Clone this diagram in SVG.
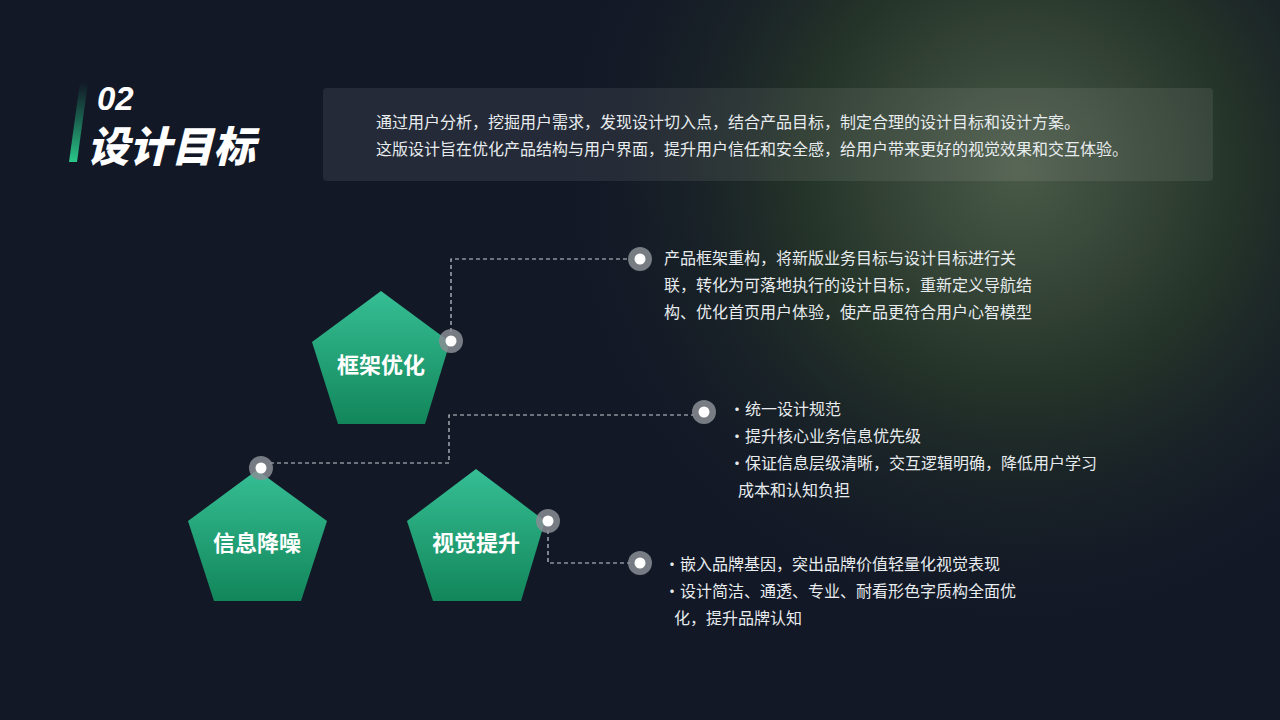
<svg xmlns="http://www.w3.org/2000/svg" width="1280" height="720" viewBox="0 0 1280 720">
<defs>
<radialGradient id="glow" cx="1020" cy="170" r="480" gradientUnits="userSpaceOnUse">
<stop offset="0" stop-color="#4a5a48"/><stop offset="0.45" stop-color="#253429"/><stop offset="1" stop-color="#141a26" stop-opacity="0"/>
</radialGradient>
<linearGradient id="pg" x1="0" y1="0" x2="0" y2="1">
<stop offset="0" stop-color="#36be94"/><stop offset="1" stop-color="#12865a"/>
</linearGradient>
<linearGradient id="bar" x1="0" y1="0" x2="0" y2="1">
<stop offset="0" stop-color="#1fa672" stop-opacity="0"/><stop offset="1" stop-color="#2ac88a"/>
</linearGradient>
<style>
.t{font-family:"Noto Sans CJK SC",sans-serif;fill:#e8ecef;font-size:16px}
.lbl{font-family:"Noto Sans CJK SC",sans-serif;fill:#fff;font-size:22px;font-weight:bold;text-anchor:middle}
.cn{fill:none;stroke:#c8ccd2;stroke-width:1.2;stroke-dasharray:4 3}
.ro{fill:#8a8d94;fill-opacity:.85}.ri{fill:#fff}
</style>
</defs>
<rect width="1280" height="720" fill="#121826"/>
<rect width="1280" height="720" fill="url(#glow)"/>
<g id="title">
<polygon points="80,82 88,82 77,162 69,162" fill="url(#bar)"/>
<text x="97" y="110" font-family="Liberation Sans,sans-serif" font-size="33" font-weight="bold" font-style="italic" fill="#fff">02</text>
<text x="87" y="162" font-family="Noto Sans CJK SC,sans-serif" font-size="42" font-weight="900" font-style="italic" fill="#fff">设计目标</text>
</g>
<g id="intro">
<rect x="323" y="88" width="890" height="93" rx="4" fill="#ffffff" fill-opacity="0.08"/>
<text class="t" x="376" y="128">通过用户分析，挖掘用户需求，发现设计切入点，结合产品目标，制定合理的设计目标和设计方案。</text>
<text class="t" x="376" y="155">这版设计旨在优化产品结构与用户界面，提升用户信任和安全感，给用户带来更好的视觉效果和交互体验。</text>
</g>
<g id="connectors">
<polyline class="cn" points="451,332 451,259 630,259"/>
<polyline class="cn" points="270,463 449,463 449,415 694,415"/>
<polyline class="cn" points="548,530 548,563 630,563"/>
</g>
<g id="n1">
<polygon points="381,291 450,342 425,424 338,424 312,342" fill="url(#pg)"/>
<text class="lbl" x="381" y="373">框架优化</text>
<circle cx="451" cy="341" r="12" class="ro"/><circle cx="451" cy="341" r="5.5" class="ri"/>
</g>
<g id="n2">
<polygon points="257,470 327,521 301,601 214,601 188,521" fill="url(#pg)"/>
<text class="lbl" x="257" y="551">信息降噪</text>
<circle cx="261" cy="468" r="12" class="ro"/><circle cx="261" cy="468" r="5.5" class="ri"/>
</g>
<g id="n3">
<polygon points="476,469 545,521 521,601 433,601 407,521" fill="url(#pg)"/>
<text class="lbl" x="476" y="551">视觉提升</text>
<circle cx="548" cy="521" r="12" class="ro"/><circle cx="548" cy="521" r="5.5" class="ri"/>
</g>
<g id="d1">
<circle cx="640" cy="259" r="12" class="ro"/><circle cx="640" cy="259" r="5.5" class="ri"/>
<text class="t" x="664" y="264">产品框架重构，将新版业务目标与设计目标进行关</text>
<text class="t" x="664" y="291">联，转化为可落地执行的设计目标，重新定义导航结</text>
<text class="t" x="664" y="318">构、优化首页用户体验，使产品更符合用户心智模型</text>
</g>
<g id="d2">
<circle cx="704" cy="412" r="12" class="ro"/><circle cx="704" cy="412" r="5.5" class="ri"/>
<text class="t" x="729" y="415">·统一设计规范</text>
<text class="t" x="729" y="442">·提升核心业务信息优先级</text>
<text class="t" x="729" y="469">·保证信息层级清晰，交互逻辑明确，降低用户学习</text>
<text class="t" x="738" y="496">成本和认知负担</text>
</g>
<g id="d3">
<circle cx="640" cy="563" r="12" class="ro"/><circle cx="640" cy="563" r="5.5" class="ri"/>
<text class="t" x="664" y="570">·嵌入品牌基因，突出品牌价值轻量化视觉表现</text>
<text class="t" x="664" y="597">·设计简洁、通透、专业、耐看形色字质构全面优</text>
<text class="t" x="674" y="624">化，提升品牌认知</text>
</g>
</svg>
